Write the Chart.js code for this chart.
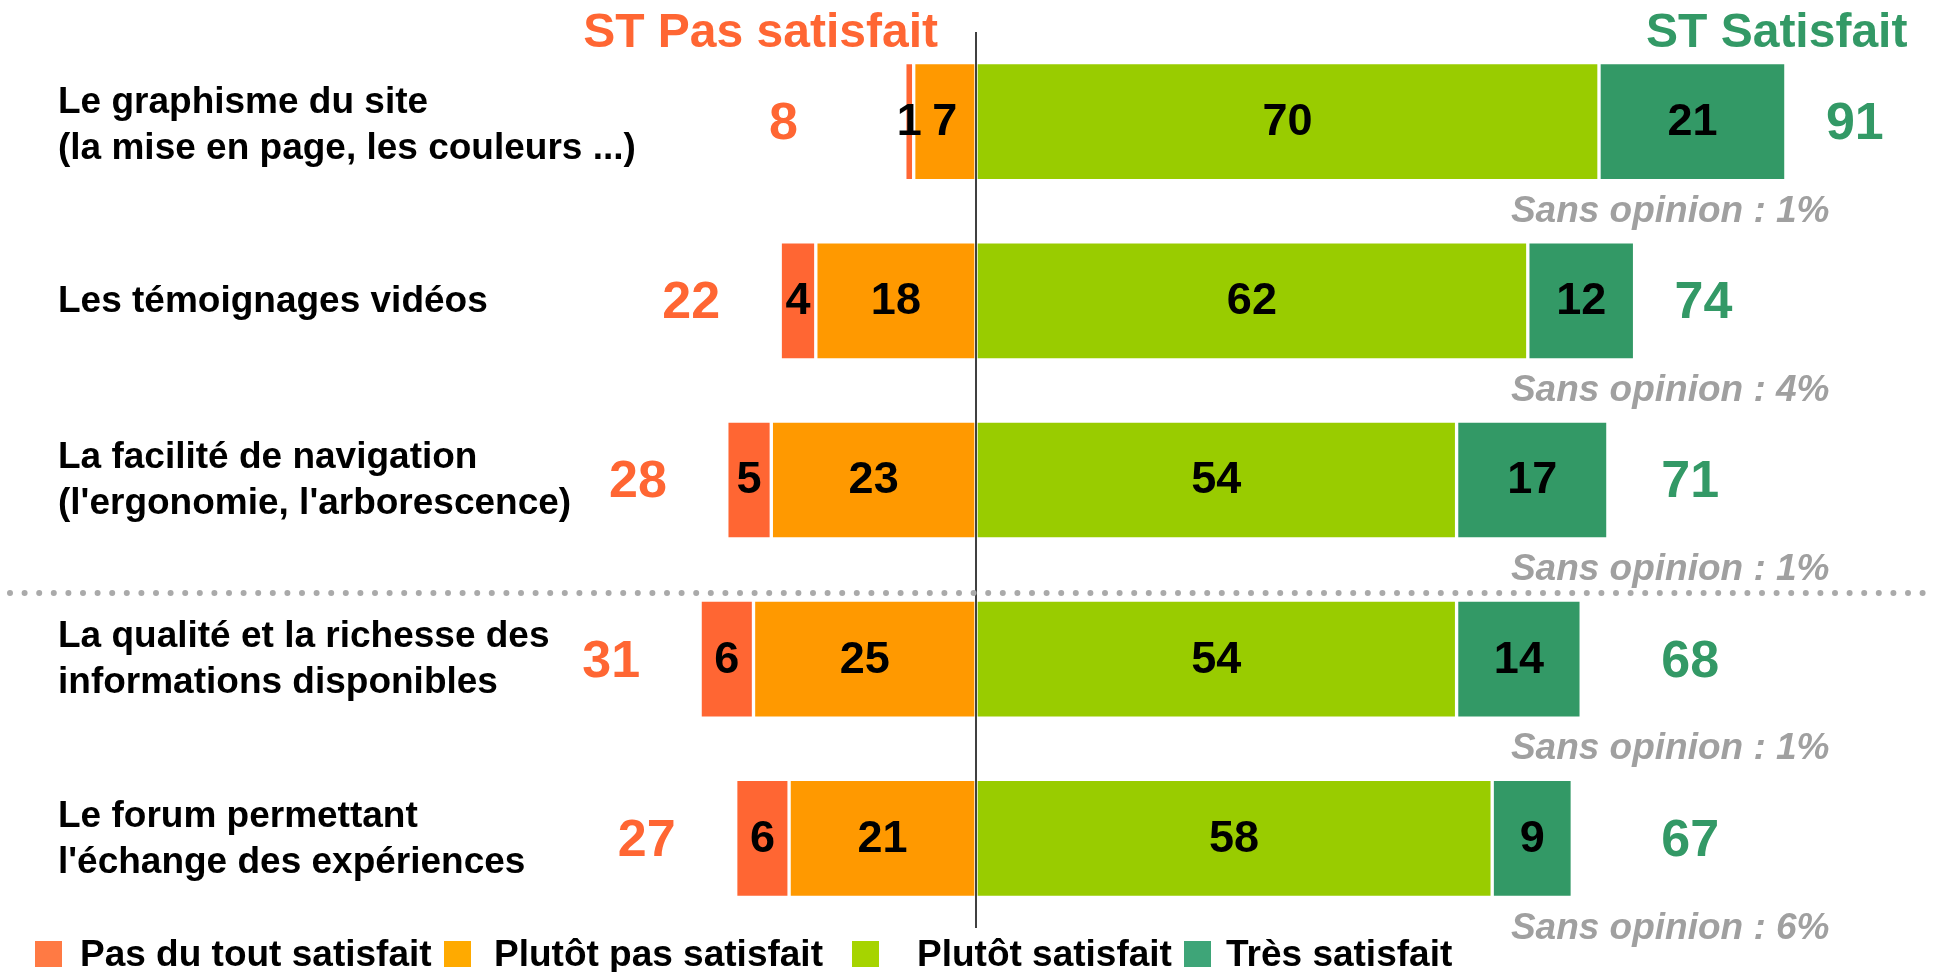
<!DOCTYPE html>
<html>
<head>
<meta charset="utf-8">
<script src="https://cdn.jsdelivr.net/npm/chart.js@4.4.0/dist/chart.umd.min.js"></script>
<style>
  body { margin: 0; background: #fff; }
  #wrap { width: 1936px; height: 972px; }
</style>
</head>
<body>
<div id="wrap"><canvas id="chart" width="1936" height="972"></canvas></div>
<script>
// categories (each entry is one line of the label)
const categories = [
    ['Le graphisme du site', '(la mise en page, les couleurs ...)'],
    ['Les témoignages vidéos'],
    ['La facilité de navigation', "(l'ergonomie, l'arborescence)"],
    ['La qualité et la richesse des', 'informations disponibles'],
    ['Le forum permettant', "l'échange des expériences"]
];

// series values (%)
const pasDuTout = [1, 4, 5, 6, 6];
const plutotPas = [7, 18, 23, 25, 21];
const plutotSat = [70, 62, 54, 54, 58];
const tresSat = [21, 12, 17, 14, 9];
const sansOpinion = [1, 4, 1, 1, 6];

const seriesNames = ['Pas du tout satisfait', 'Plutôt pas satisfait', 'Plutôt satisfait', 'Très satisfait'];

const RED = '#FF6633', ORANGE = '#FF9900', LIME = '#99CC00', GREEN = '#339966';
const legendColors = ['#FF7A44', '#FFAA00', '#A6D400', '#3EA578'];
const FONT = '"Liberation Sans", Arial, sans-serif';

function txt(ctx, s, x, y, font, color, align) {
    ctx.save();
    ctx.font = font;
    ctx.fillStyle = color;
    ctx.textAlign = align || 'center';
    ctx.textBaseline = 'middle';
    ctx.fillText(s, x, y);
    ctx.restore();
}

// everything that is not a bar: labels, totals, zero line, separator, legend
const overlay = {
    id: 'overlay',
    afterDatasetsDraw(chart) {
        const ctx = chart.ctx;
        const xs = chart.scales.x, ys = chart.scales.y;
        const area = chart.chartArea;
        const x0 = xs.getPixelForValue(0);

        // zero line
        ctx.save();
        ctx.strokeStyle = '#000';
        ctx.lineWidth = 1.5;
        ctx.beginPath();
        ctx.moveTo(x0, area.top);
        ctx.lineTo(x0, area.bottom);
        ctx.stroke();
        ctx.restore();

        // dotted separator between 3rd and 4th item
        const ySep = ys.getPixelForValue(2) + (ys.getPixelForValue(3) - ys.getPixelForValue(2)) * 0.63;
        ctx.save();
        ctx.strokeStyle = '#AAAAAA';
        ctx.lineWidth = 6;
        ctx.lineCap = 'round';
        ctx.setLineDash([0, 14.6]);
        ctx.beginPath();
        ctx.moveTo(10, ySep);
        ctx.lineTo(1930, ySep);
        ctx.stroke();
        ctx.restore();

        // values inside the bars
        chart.data.datasets.forEach((ds, i) => {
            const meta = chart.getDatasetMeta(i);
            meta.data.forEach((bar, j) => {
                const v = Math.abs(ds.data[j]);
                txt(ctx, String(v), (bar.x + bar.base) / 2, bar.y + 1, 'bold 45px ' + FONT, '#000');
            });
        });

        // category labels, totals, sans opinion
        categories.forEach((lines, j) => {
            const yc = ys.getPixelForValue(j);
            const n = lines.length;
            const shift = j === 0 ? 4 : 1;
            lines.forEach((line, k) => {
                txt(ctx, line, 58, yc + (k - (n - 1) / 2) * 46 + shift, 'bold 37px ' + FONT, '#000', 'left');
            });

            const neg = pasDuTout[j] + plutotPas[j];
            const pos = plutotSat[j] + tresSat[j];
            const left = xs.getPixelForValue(-neg);
            const right = xs.getPixelForValue(pos);
            txt(ctx, String(neg), Math.min(left - 60, xs.getPixelForValue(-20)), yc + 3, 'bold 52px ' + FONT, RED, 'right');
            txt(ctx, String(pos), Math.max(right + 40, xs.getPixelForValue(77)), yc + 3, 'bold 52px ' + FONT, GREEN, 'left');

            txt(ctx, 'Sans opinion : ' + sansOpinion[j] + '%', xs.getPixelForValue(78), yc + 90,
                'italic bold 37px ' + FONT, '#A0A0A0');
        });

        // headers
        ctx.save();
        ctx.font = 'bold 48px ' + FONT;
        ctx.textBaseline = 'alphabetic';
        ctx.fillStyle = RED;
        ctx.textAlign = 'right';
        ctx.fillText('ST Pas satisfait', 938, 47);
        ctx.fillStyle = GREEN;
        ctx.textAlign = 'left';
        ctx.fillText('ST Satisfait', 1646, 47);
        ctx.restore();

        // legend
        const boxX = [35, 444, 852, 1184];
        const textX = [80, 494, 917, 1226];
        seriesNames.forEach((name, i) => {
            ctx.fillStyle = legendColors[i];
            ctx.fillRect(boxX[i], 941, 27, 26);
            ctx.save();
            ctx.font = 'bold 37px ' + FONT;
            ctx.fillStyle = '#000';
            ctx.textAlign = 'left';
            ctx.textBaseline = 'alphabetic';
            ctx.fillText(name, textX[i], 966);
            ctx.restore();
        });
    }
};

const barStyle = { borderColor: '#FFFFFF', borderWidth: 2, borderSkipped: false, barThickness: 118 };

new Chart(document.getElementById('chart'), {
    type: 'bar',
    data: {
        labels: categories.map(c => c.join(' ')),
        datasets: [
            Object.assign({ label: seriesNames[1], data: plutotPas.map(v => -v), backgroundColor: ORANGE }, barStyle),
            Object.assign({ label: seriesNames[0], data: pasDuTout.map(v => -v), backgroundColor: RED }, barStyle),
            Object.assign({ label: seriesNames[2], data: plutotSat, backgroundColor: LIME }, barStyle),
            Object.assign({ label: seriesNames[3], data: tresSat, backgroundColor: GREEN }, barStyle)
        ]
    },
    options: {
        indexAxis: 'y',
        responsive: false,
        animation: false,
        devicePixelRatio: 1,
        layout: { padding: { left: 620, right: 70, top: 32, bottom: 44 } },
        scales: {
            x: { stacked: true, min: -40, max: 100, display: false },
            y: { stacked: true, display: false }
        },
        plugins: {
            legend: { display: false },
            tooltip: { enabled: false }
        }
    },
    plugins: [overlay]
});
</script>
</body>
</html>
